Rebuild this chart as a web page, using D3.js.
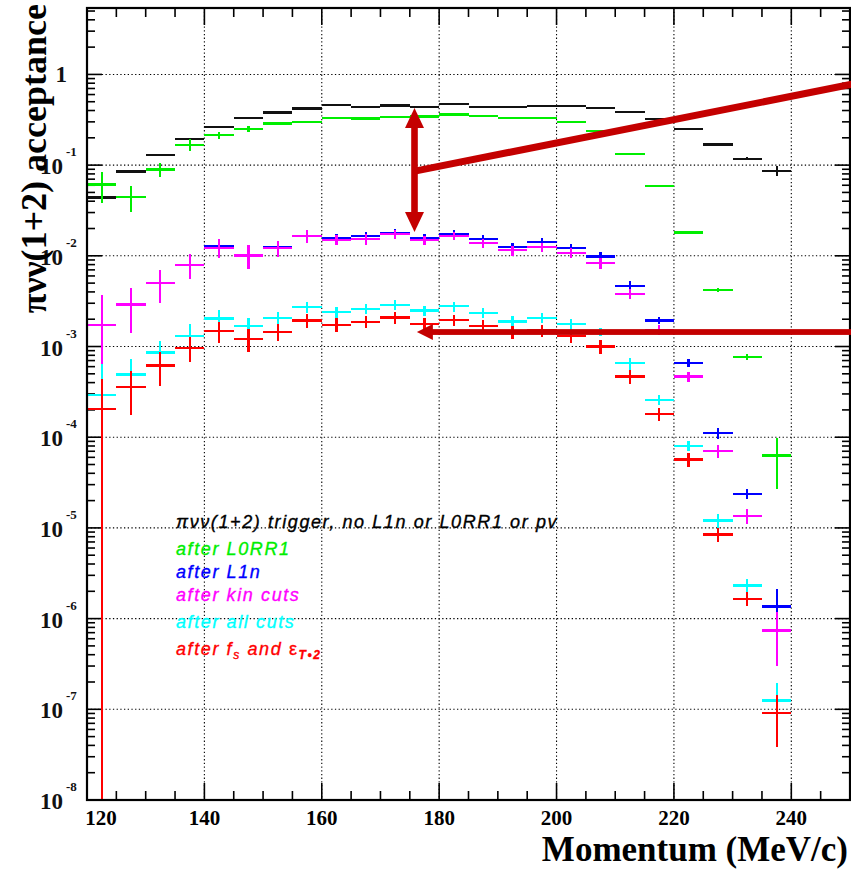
<!DOCTYPE html>
<html><head><meta charset="utf-8">
<script src="https://cdn.jsdelivr.net/npm/d3@7"></script>
<style>body{margin:0;background:#fff} svg{display:block}</style>
</head><body><svg id="c" width="851" height="871"></svg>
<script>
// ---- data ----
const binLow = [120,125,130,135,140,145,150,155,160,165,170,175,180,185,190,195,200,205,210,215,220,225,230,235];
const binWidth = 5;
const trigger    = [0.044,0.085,0.130,0.195,0.262,0.333,0.381,0.42,0.46,0.436,0.455,0.436,0.475,0.44,0.436,0.447,0.447,0.425,0.388,0.32,0.248,0.169,0.118,0.087];
const triggerErr = [0.002,0.003,0.004,0.005,0.006,0.007,0.007,0.008,0.008,0.008,0.008,0.008,0.008,0.008,0.008,0.008,0.008,0.008,0.008,0.007,0.006,0.005,0.004,0.012];
const afterL0RR1    = [0.0612,0.0444,0.0897,0.168,0.214,0.252,0.288,0.298,0.33,0.327,0.339,0.344,0.362,0.35,0.33,0.333,0.301,0.237,0.133,0.059,0.0181,0.00419,7.64e-4,6.3e-5];
const afterL0RR1Err = [0.023,0.014,0.016,0.025,0.02,0.018,0.012,0.01,0.008,0.008,0.008,0.008,0.008,0.008,0.008,0.008,0.007,0.006,0.004,0.002,0.0007,0.0002,6e-5,3.6e-5];
const afterL1n    = [1.71e-3,2.91e-3,5.05e-3,7.98e-3,0.0127,0.0102,0.0124,0.0165,0.0156,0.0164,0.018,0.0156,0.0175,0.0152,0.0125,0.01416,0.0122,0.00985,4.63e-3,1.94e-3,6.62e-4,1.11e-4,2.38e-5,1.36e-6];
const afterL1nErr = [1.95e-3,1.5e-3,2e-3,2.4e-3,2.5e-3,2.5e-3,2.3e-3,2.5e-3,2e-3,2e-3,2e-3,1.8e-3,1.8e-3,1.8e-3,1.5e-3,1.6e-3,1.4e-3,1.2e-3,6e-4,1.9e-4,7e-5,1.5e-5,3.2e-6,7.8e-7];
const afterKin    = [1.71e-3,2.91e-3,5.05e-3,7.98e-3,0.01228,0.0101,0.0121,0.0164,0.01506,0.0153,0.01735,0.0148,0.01667,0.0138,0.01148,0.0125,0.0108,0.00831,3.82e-3,1.53e-3,4.68e-4,7.03e-5,1.36e-5,7.4e-7];
const afterKinErr = [1.95e-3,1.5e-3,2e-3,2.4e-3,2.9e-3,2.9e-3,2.5e-3,2.7e-3,2e-3,2e-3,2e-3,1.8e-3,1.8e-3,1.7e-3,1.5e-3,1.5e-3,1.3e-3,1.1e-3,5e-4,2e-4,6e-5,1.2e-5,2.5e-6,4.4e-7];
const afterAll    = [2.94e-4,4.92e-4,8.61e-4,1.315e-3,2.04e-3,1.68e-3,2.06e-3,2.72e-3,2.4e-3,2.61e-3,2.89e-3,2.5e-3,2.77e-3,2.34e-3,1.89e-3,2.07e-3,1.78e-3,1.45e-3,6.56e-4,2.59e-4,7.98e-5,1.21e-5,2.32e-6,1.25e-7];
const afterAllErr = [3.5e-4,2.4e-4,3e-4,4.7e-4,4.6e-4,3.8e-4,3.2e-4,4e-4,3.5e-4,3.5e-4,3.5e-4,3.2e-4,3.4e-4,3e-4,2.6e-4,2.7e-4,2.4e-4,1.5e-4,1e-4,3.5e-5,1e-5,2e-6,4e-7,7e-8];
const afterFs    = [2.06e-4,3.57e-4,6.19e-4,9.7e-4,1.48e-3,1.22e-3,1.45e-3,1.94e-3,1.74e-3,1.88e-3,2.09e-3,1.78e-3,1.97e-3,1.68e-3,1.44e-3,1.5e-3,1.3e-3,1.0e-3,4.68e-4,1.82e-4,5.69e-5,8.48e-6,1.66e-6,9.1e-8];
const afterFsErr = [2.35e-4,1.8e-4,2.5e-4,3e-4,3.8e-4,3.5e-4,3e-4,3.2e-4,3e-4,3e-4,3e-4,2.8e-4,2.8e-4,2.6e-4,2.4e-4,2.4e-4,2.1e-4,1.7e-4,8e-5,3e-5,1e-5,1.5e-6,3e-7,5.3e-8];

const xMajorTicks = [120,140,160,180,200,220,240];
const yDecadeExponents = [0,-1,-2,-3,-4,-5,-6,-7,-8];

// annotation arrows in data units (momentum, acceptance)
const vArrow = {x:175.8, top:0.426, bottom:0.0183};
const diagLine = {x0:176.2, y0:0.086, x1:250, y1:0.772};
const hArrow = {x0:250, x1:176.2, y:1.445e-3};

// ---- chart ----
const L=87, R=850, T=8, B=800;
const svg = d3.select('#c');
const x = d3.scaleLinear().domain([120,250]).range([L,R]);
const y = d3.scaleLog().domain([1e-8,5.4]).range([B,T]);
const serif = "'Liberation Serif','Times New Roman',serif";
const sans = "'Liberation Sans',Arial,Helvetica,sans-serif";

// grid
const gGrid = svg.append('g').attr('stroke','#000').attr('stroke-width',1.1).attr('stroke-dasharray','1.3,2.4');
gGrid.selectAll('line.gx').data(xMajorTicks.filter(d=>d>120)).join('line')
  .attr('x1',d=>x(d)).attr('x2',d=>x(d)).attr('y1',T).attr('y2',B);
gGrid.selectAll('line.gy').data(yDecadeExponents.filter(e=>e>-8).map(e=>Math.pow(10,e))).join('line')
  .attr('x1',L).attr('x2',R).attr('y1',d=>y(d)).attr('y2',d=>y(d));

// ticks
const xMinor = d3.range(125,250,5).filter(v=>xMajorTicks.indexOf(v)<0);
const yMinor = [];
yDecadeExponents.forEach(e=>{for(let k=2;k<=9;k++){const v=k*Math.pow(10,e); if(v<5.4) yMinor.push(v);} });
const gT = svg.append('g').attr('stroke','#000').attr('stroke-width',1.6);
function vt(vals,len){
  gT.append('g').selectAll('line').data(vals).join('line').attr('x1',d=>x(d)).attr('x2',d=>x(d)).attr('y1',B).attr('y2',B-len);
  gT.append('g').selectAll('line').data(vals).join('line').attr('x1',d=>x(d)).attr('x2',d=>x(d)).attr('y1',T).attr('y2',T+len);
}
vt(xMajorTicks,17); vt(xMinor,9);
function ht(vals,len){
  gT.append('g').selectAll('line').data(vals).join('line').attr('y1',d=>y(d)).attr('y2',d=>y(d)).attr('x1',L).attr('x2',L+len);
  gT.append('g').selectAll('line').data(vals).join('line').attr('y1',d=>y(d)).attr('y2',d=>y(d)).attr('x1',R).attr('x2',R-len);
}
ht(yDecadeExponents.map(e=>Math.pow(10,e)),15); ht(yMinor,8);

// data
svg.append('clipPath').attr('id','pc').append('rect').attr('x',L).attr('y',T).attr('width',R-L).attr('height',B-T);
const series = [
  {v:trigger,e:triggerErr,c:'#111'},
  {v:afterL0RR1,e:afterL0RR1Err,c:'#00ee00'},
  {v:afterL1n,e:afterL1nErr,c:'#0000ff'},
  {v:afterKin,e:afterKinErr,c:'#ff00ff'},
  {v:afterAll,e:afterAllErr,c:'#00ffff'},
  {v:afterFs,e:afterFsErr,c:'#ff0000'}
];
const gD = svg.append('g').attr('clip-path','url(#pc)').attr('shape-rendering','crispEdges');
series.forEach(s=>{
  const pts = binLow.map((lo,i)=>({lo,hi:lo+binWidth,v:s.v[i],e:s.e[i]}));
  const g = gD.append('g').attr('stroke',s.c).attr('stroke-width',2.2);
  g.selectAll('line.h').data(pts).join('line')
    .attr('x1',d=>x(d.lo)).attr('x2',d=>x(d.hi)).attr('y1',d=>y(d.v)).attr('y2',d=>y(d.v));
  g.selectAll('line.v').data(pts).join('line')
    .attr('x1',d=>x(d.lo+binWidth/2)).attr('x2',d=>x(d.lo+binWidth/2))
    .attr('y1',d=>y(d.v+d.e)).attr('y2',d=>(d.v-d.e)>1e-8 ? y(d.v-d.e) : B);
});

// frame
svg.append('rect').attr('x',L).attr('y',T).attr('width',R-L).attr('height',B-T)
  .attr('fill','none').attr('stroke','#000').attr('stroke-width',2.2);

// x labels (first label kept inside the frame, as in the reference)
svg.append('g').selectAll('text').data(xMajorTicks).join('text')
  .attr('x',d=>x(d) + (d===xMajorTicks[0] ? 14 : 0)).attr('y',825).attr('text-anchor','middle')
  .attr('font-family',serif).attr('font-weight','bold').attr('font-size',21)
  .text(d=>d);

// y labels
const gy = svg.append('g').attr('font-family',serif).attr('font-weight','bold').attr('fill','#111');
yDecadeExponents.forEach(e=>{
  const yy = y(Math.pow(10,e));
  if(e===0){
    gy.append('text').attr('x',67).attr('y',yy+8).attr('text-anchor','end').attr('font-size',23).text('1');
  } else {
    gy.append('text').attr('x',63).attr('y',yy+9).attr('text-anchor','end').attr('font-size',23).text('10');
    gy.append('text').attr('x',66).attr('y',yy-9).attr('text-anchor','start').attr('font-size',13).text(String(e));
  }
});

// axis titles
svg.append('text').attr('x',848).attr('y',861).attr('text-anchor','end')
  .attr('font-family',serif).attr('font-weight','bold').attr('font-size',35).text('Momentum (MeV/c)');
svg.append('text').attr('transform','translate(46,4) rotate(-90)').attr('text-anchor','end')
  .attr('font-family',serif).attr('font-weight','bold').attr('font-size',36).text('πνν(1+2) acceptance');

// legend
const legend = [
  {t:'πνν(1+2) trigger, no L1n or L0RR1 or pv', c:'#000'},
  {t:'after L0RR1', c:'#00ee00'},
  {t:'after L1n', c:'#0000ff'},
  {t:'after kin cuts', c:'#ff00ff'},
  {t:'after all cuts', c:'#00ffff'}
];
const legendY = [528,555,578,601,628,655];
const gL = svg.append('g').attr('font-family',sans).attr('font-style','italic').attr('font-size',18)
  .attr('letter-spacing','1.6px').attr('stroke-width',0.35);
legend.forEach((d,i)=>{
  gL.append('text').attr('x',176).attr('y',legendY[i]).attr('fill',d.c).attr('stroke',d.c).text(d.t);
});
const last = gL.append('text').attr('x',176).attr('y',legendY[5]).attr('fill','#ff0000').attr('stroke','#ff0000');
last.append('tspan').text('after f');
last.append('tspan').attr('font-size',12).attr('dy',4).text('s');
last.append('tspan').attr('dy',-4).text(' and ');
last.append('tspan').attr('font-style','normal').text('ε');
last.append('tspan').attr('font-size',12).attr('font-weight','bold').attr('dy',4).text('T•2');

// annotation arrows
const red = '#c40000';
const gA = svg.append('g').attr('fill',red);
function head(tx,ty,dx,dy,len,hw){
  const nx=-dy, ny=dx;
  return `M${tx},${ty}L${tx-dx*len+nx*hw},${ty-dy*len+ny*hw}L${tx-dx*len-nx*hw},${ty-dy*len-ny*hw}Z`;
}
const vx = x(vArrow.x), vt0 = y(vArrow.top), vb = y(vArrow.bottom);
gA.append('rect').attr('x',vx-3.3).attr('y',vt0+18).attr('width',6.6).attr('height',vb-vt0-36);
gA.append('path').attr('d',head(vx,vt0,0,-1,20,9.5));
gA.append('path').attr('d',head(vx,vb,0,1,20,9.5));
svg.append('line').attr('x1',x(diagLine.x0)-2).attr('y1',y(diagLine.y0)).attr('x2',x(diagLine.x1)+6).attr('y2',y(diagLine.y1)-1.2)
  .attr('stroke',red).attr('stroke-width',7);
const hy = y(hArrow.y), hx1 = x(hArrow.x1);
gA.append('rect').attr('x',hx1+14).attr('y',hy-2.9).attr('width',x(hArrow.x0)+6-hx1-14).attr('height',5.8);
gA.append('path').attr('d',head(hx1,hy,-1,0,16,8));
</script></body></html>
